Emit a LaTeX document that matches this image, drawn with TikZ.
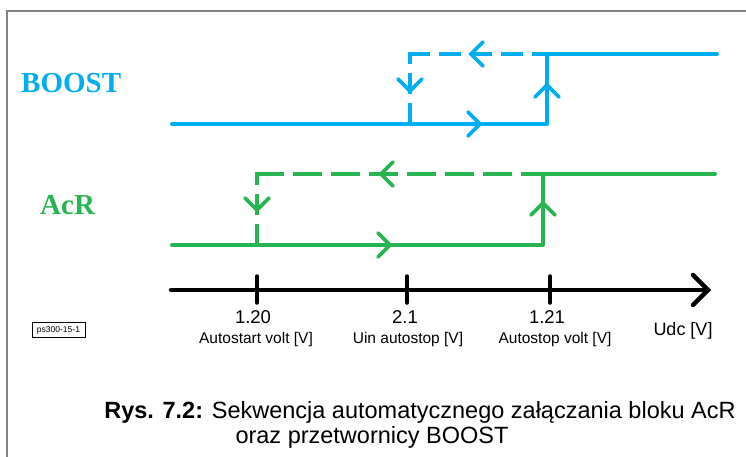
\documentclass[tikz,border=0pt]{standalone}
\usepackage{fontspec}
\setmainfont{Liberation Sans}
\newfontfamily\labelfont{Liberation Serif}
\definecolor{boostc}{RGB}{0,174,239}
\definecolor{acrc}{RGB}{40,180,80}
\definecolor{framec}{RGB}{130,130,130}
\begin{document}
\begin{tikzpicture}[x=1pt,y=-1pt,
  sig/.style={line width=4pt,line cap=round,line join=round},
  dsig/.style={line width=4pt,line cap=butt},
  chev/.pic={\draw[line width=3.6pt,line cap=round,line join=miter] (-12,-12) -- (0,0) -- (-12,12);},
  axchev/.pic={\draw[line width=4.5pt,line cap=round,line join=miter] (-15,-15) -- (0,0) -- (-15,15);},
  axisline/.style={line width=4.5pt,line cap=round},
  tickline/.style={line width=3.5pt,line cap=round},
  siglabel/.style={font=\labelfont\bfseries\fontsize{29}{29}\selectfont,anchor=base west,inner sep=0pt},
  numlabel/.style={font=\fontsize{18.5}{18.5}\selectfont,anchor=base,inner sep=0pt},
  desclabel/.style={font=\fontsize{15.5}{15.5}\selectfont,anchor=base,inner sep=0pt},
  caplabel/.style={font=\fontsize{23.5}{23.5}\selectfont,anchor=base,inner sep=0pt},
  idbox/.style={draw=black,line width=0.6pt,font=\fontsize{8.5}{8.5}\selectfont,inner xsep=2.5pt,inner ysep=3pt,minimum width=53pt,minimum height=15pt}
]
\useasboundingbox (0,0) rectangle (746,457);
\fill[white] (0,0) rectangle (746,457);
% frame
\coordinate (fTR) at (746,11);
\coordinate (fTL) at (7,11);
\coordinate (fBL) at (7,457);
\draw[framec,line width=1.6pt] (fTR) -- (fTL) -- (fBL);

% labels
\node[siglabel,text=boostc] (lboost) at (21,93) {BOOST};
\node[siglabel,text=acrc] (lacr) at (40,214) {AcR};

% BOOST
\coordinate (bL) at (172,124);
\coordinate (bV) at (547,124);
\coordinate (bVt) at (547,54);
\coordinate (bR) at (717,54);
\coordinate (bS) at (410,124);
\coordinate (bD) at (410,52);
\coordinate (bDh) at (408,54);
\draw[sig,boostc] (bL) -- (bV) -- (bVt) -- (bR);
\draw[dsig,boostc,dash pattern=on 21pt off 9pt] (bS) -- (bD);
\draw[dsig,boostc,dash pattern=on 22pt off 9pt] (bDh) -- (bVt);
\pic[boostc] at (480,124) {chev};
\pic[boostc,rotate=180] at (471,54) {chev};
\pic[boostc,rotate=-90] at (410,91) {chev};
\pic[boostc,rotate=90] at (547,85) {chev};

% AcR
\coordinate (aL) at (172,245);
\coordinate (aV) at (543,245);
\coordinate (aVt) at (543,174);
\coordinate (aR) at (715,174);
\coordinate (aS) at (257,245);
\coordinate (aD) at (257,172);
\coordinate (aDh) at (255,174);
\draw[sig,acrc] (aL) -- (aV) -- (aVt) -- (aR);
\draw[dsig,acrc,dash pattern=on 21pt off 9pt] (aS) -- (aD);
\draw[dsig,acrc,dash pattern=on 29pt off 9pt] (aDh) -- (aVt);
\pic[acrc] at (390,245) {chev};
\pic[acrc,rotate=180] at (381,174) {chev};
\pic[acrc,rotate=-90] at (257,210) {chev};
\pic[acrc,rotate=90] at (543,203) {chev};

% axis
\coordinate (x0) at (171,290);
\coordinate (x1) at (708,290);
\draw[axisline] (x0) -- (x1);
\pic at (x1) {axchev};
\coordinate (t1a) at (257,276); \coordinate (t1b) at (257,303);
\coordinate (t2a) at (407,276); \coordinate (t2b) at (407,303);
\coordinate (t3a) at (550,276); \coordinate (t3b) at (550,303);
\draw[tickline] (t1a) -- (t1b);
\draw[tickline] (t2a) -- (t2b);
\draw[tickline] (t3a) -- (t3b);

\node[numlabel] (n1) at (253,323) {1.20};
\node[desclabel] (d1) at (256,343.5) {Autostart volt [V]};
\node[numlabel] (n2) at (405,323) {2.1};
\node[desclabel] (d2) at (408,343.5) {Uin autostop [V]};
\node[numlabel] (n3) at (547,323) {1.21};
\node[desclabel] (d3) at (555,343.5) {Autostop volt [V]};
\node[numlabel,font=\fontsize{18}{18}\selectfont] (udc) at (683,335) {Udc [V]};

\node[idbox] (id) at (58.5,330) {ps300-15-1};

\node[caplabel] (cap1) at (420,418) {\textbf{Rys. 7.2:} Sekwencja automatycznego załączania bloku AcR};
\node[caplabel] (cap2) at (372,443) {oraz przetwornicy BOOST};
\end{tikzpicture}
\end{document}
